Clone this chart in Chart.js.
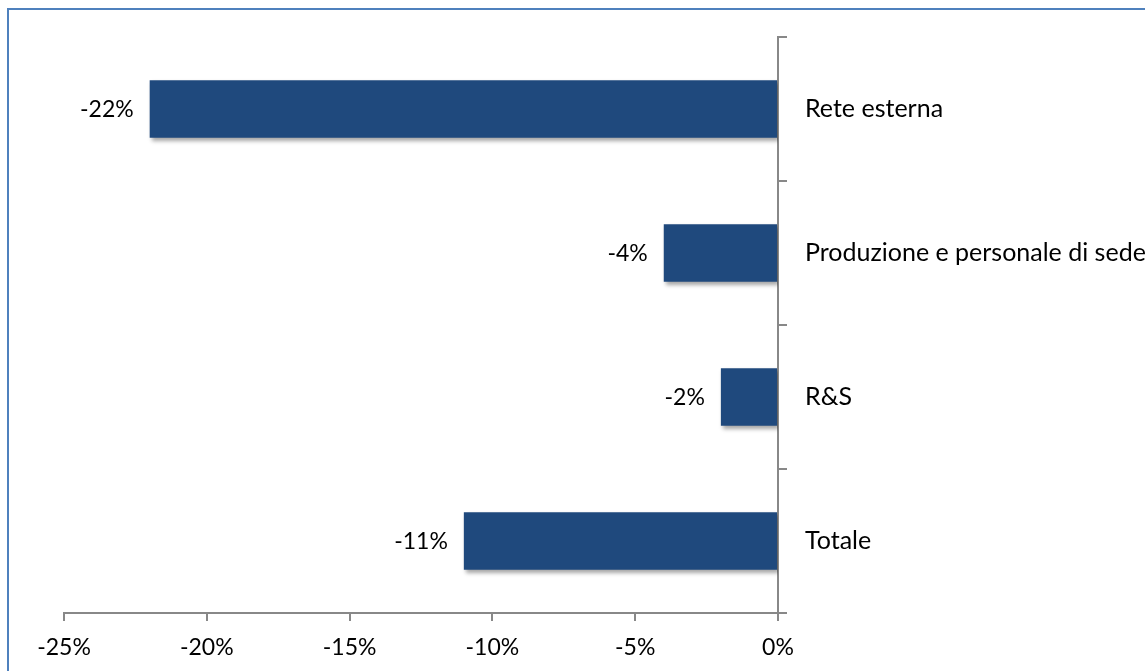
<!DOCTYPE html>
<html>
<head>
<meta charset="utf-8">
<script src="https://cdn.jsdelivr.net/npm/chart.js@4/dist/chart.umd.min.js"></script>
<style>
  html, body { margin: 0; padding: 0; background: #fff; }
  #wrap { position: relative; width: 1145px; height: 671px; overflow: hidden; }
  #frame { position: absolute; left: 7px; top: 8px; width: 1200px; height: 800px;
           border-top: 2px solid #4F81BD; border-left: 2px solid #4F81BD; pointer-events: none; }
</style>
</head>
<body>
<div id="wrap">
  <canvas id="barChart" width="1145" height="671"></canvas>
  <div id="frame"></div>
</div>
<script>
// dati del grafico
const categories = ['Rete esterna', 'Produzione e personale di sede', 'R&S', 'Totale'];
const values = [-22, -4, -2, -11];
const tickValues = [-25, -20, -15, -10, -5, 0];

const fontFamily = 'Lato, "Open Sans", sans-serif';
const axisGray = '#888888';

// ombra delle barre + etichette dei valori
const barExtras = {
  id: 'barExtras',
  beforeDatasetsDraw(chart) {
    const ctx = chart.ctx;
    ctx.save();
    ctx.shadowColor = 'rgba(0,0,0,0.35)';
    ctx.shadowOffsetX = 2;
    ctx.shadowOffsetY = 3;
    ctx.shadowBlur = 4;
  },
  afterDatasetsDraw(chart) {
    const ctx = chart.ctx;
    ctx.restore();
    ctx.save();
    ctx.font = '23px ' + fontFamily;
    ctx.fillStyle = '#000';
    ctx.textAlign = 'right';
    ctx.textBaseline = 'middle';
    chart.getDatasetMeta(0).data.forEach((bar, i) => {
      ctx.fillText(values[i] + '%', bar.x - 16, bar.y + 1);
    });
    ctx.restore();
  }
};

let ctx = document.getElementById('barChart');

let chart = new Chart(ctx, {
  type: 'bar',
  data: {
    labels: categories,
    datasets: [{
      data: values,
      backgroundColor: '#1F497D',
      borderWidth: 0,
      barPercentage: 0.4,
      categoryPercentage: 1.0
    }]
  },
  options: {
    indexAxis: 'y',
    responsive: false,
    animation: false,
    layout: {
      padding: { left: 64, top: 37, right: 0, bottom: 0 }
    },
    plugins: {
      legend: { display: false },
      tooltip: { enabled: false }
    },
    scales: {
      x: {
        min: -25,
        max: 0,
        afterBuildTicks(axis) {
          axis.ticks = tickValues.map(v => ({ value: v }));
        },
        afterFit(axis) { axis.height = 58; },
        grid: { drawOnChartArea: false, tickLength: 8, color: axisGray, lineWidth: 2 },
        border: { color: axisGray, width: 2 },
        ticks: {
          color: '#000',
          padding: 13,
          maxRotation: 0,
          font: { family: fontFamily, size: 23 },
          callback: v => v + '%'
        }
      },
      y: {
        position: 'right',
        offset: true,
        afterFit(axis) { axis.width = 1145 - 778; },
        grid: { offset: true, drawOnChartArea: false, tickLength: 9, color: axisGray, lineWidth: 2 },
        border: { color: axisGray, width: 2 },
        ticks: {
          color: '#000',
          padding: 18,
          font: { family: fontFamily, size: 25 }
        }
      }
    }
  },
  plugins: [barExtras]
});
</script>
</body>
</html>
